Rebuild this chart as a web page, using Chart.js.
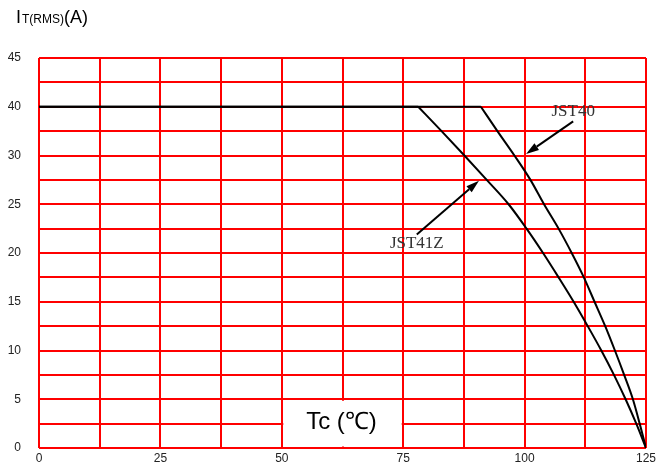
<!DOCTYPE html>
<html><head><meta charset="utf-8">
<style>html,body{margin:0;padding:0;background:#fff;}#wrap{width:664px;height:463px;position:relative;}</style>
<script src="https://cdn.jsdelivr.net/npm/chart.js@4"></script>
</head><body><div id="wrap"><canvas id="c" width="664" height="463"></canvas></div>
<script>
// X ticks (Tc, °C) — labelled every 25, grid every 12.5
const xTickLabels = [0, 25, 50, 75, 100, 125];
// Y tick labels as printed on the original axis (evenly spaced; note "35" is absent)
const yTickLabels = ['0', '5', '10', '15', '20', '25', '30', '40', '45'];
// Series values in axis units (each label step = 5 units; printed "40" sits at 35)
const flatLevel = 35;
const jst40FlatEnd = 91.0;
const jst41zFlatEnd = 78.1;
const jst40X = [91.0, 94.4, 97.9, 101.2, 104.0, 107.0, 109.7, 112.2, 114.4, 116.6, 118.6, 120.5, 122.3, 123.7, 125];
const jst40Y = [35, 32.5, 30, 27.5, 25, 22.5, 20, 17.5, 15, 12.5, 10, 7.5, 5, 2.5, 0];
const jst41zX = [78.1, 82.9, 87.6, 92.2, 96.7, 100.4, 103.8, 107.0, 110.1, 113.0, 115.8, 118.4, 120.8, 123.0, 125];
const jst41zY = [35, 32.5, 30, 27.5, 25, 22.5, 20, 17.5, 15, 12.5, 10, 7.5, 5, 2.5, 0];
// Annotation labels and arrows (tail -> tip), in data units
const seriesNames = ['JST40', 'JST41Z'];
const labelPos = [[110, 34.5], [77.8, 21.0]];
const arrowTail = [[110.0, 33.5], [77.8, 21.9]];
const arrowTip = [[100.3, 30.15], [90.6, 27.4]];
const axisTitleX = 'Tc (℃)';

const toPts = (xs, ys) => xs.map((x, i) => ({x: x, y: ys[i]}));

const overlay = {
  id: 'overlay',
  beforeDatasetsDraw(chart) {
    const ctx = chart.ctx, xs = chart.scales.x, ys = chart.scales.y;
    ctx.save();
    const l = xs.getPixelForValue(50) + 1.5, r = xs.getPixelForValue(75) - 1.5;
    const t = ys.getPixelForValue(5) + 1.5, b = ys.getPixelForValue(0) - 1.5;
    ctx.fillStyle = '#fff';
    ctx.fillRect(l, t, r - l, b - t);
    ctx.fillStyle = '#000';
    ctx.font = '24px "Liberation Sans", Arial, sans-serif';
    ctx.textAlign = 'center';
    ctx.textBaseline = 'middle';
    ctx.fillText(axisTitleX, xs.getPixelForValue(62.3), ys.getPixelForValue(2.6));
    ctx.restore();
  },
  afterDatasetsDraw(chart) {
    const ctx = chart.ctx, xs = chart.scales.x, ys = chart.scales.y;
    ctx.save();
    for (let i = 0; i < seriesNames.length; i++) {
      const x1 = xs.getPixelForValue(arrowTail[i][0]), y1 = ys.getPixelForValue(arrowTail[i][1]);
      const x2 = xs.getPixelForValue(arrowTip[i][0]), y2 = ys.getPixelForValue(arrowTip[i][1]);
      const a = Math.atan2(y2 - y1, x2 - x1);
      const hl = 13, hw = 4;
      const bx = x2 - hl * Math.cos(a), by = y2 - hl * Math.sin(a);
      ctx.strokeStyle = '#000'; ctx.lineWidth = 2;
      ctx.beginPath(); ctx.moveTo(x1, y1); ctx.lineTo(bx, by); ctx.stroke();
      ctx.fillStyle = '#000';
      ctx.beginPath();
      ctx.moveTo(x2, y2);
      ctx.lineTo(bx + hw * Math.sin(a), by - hw * Math.cos(a));
      ctx.lineTo(bx - hw * Math.sin(a), by + hw * Math.cos(a));
      ctx.closePath(); ctx.fill();
      ctx.fillStyle = '#333';
      ctx.font = '17px "Liberation Serif", "Times New Roman", serif';
      ctx.textAlign = 'center'; ctx.textBaseline = 'middle';
      ctx.fillText(seriesNames[i], xs.getPixelForValue(labelPos[i][0]), ys.getPixelForValue(labelPos[i][1]));
    }
    // Y axis title: I_T(RMS)(A)
    ctx.fillStyle = '#000';
    ctx.textAlign = 'left'; ctx.textBaseline = 'alphabetic';
    let x = 16;
    ctx.font = '18px "Liberation Sans", Arial, sans-serif';
    ctx.fillText('I', x, 23); x += ctx.measureText('I').width + 1;
    ctx.font = '12px "Liberation Sans", Arial, sans-serif';
    ctx.fillText('T(RMS)', x, 23); x += ctx.measureText('T(RMS)').width;
    ctx.font = '18px "Liberation Sans", Arial, sans-serif';
    ctx.fillText('(A)', x, 23);
    ctx.restore();
  }
};

const lineStyle = {showLine: true, borderColor: '#000', borderWidth: 2, pointRadius: 0, fill: false};

new Chart(document.getElementById('c'), {
  type: 'scatter',
  data: {
    datasets: [
      Object.assign({label: seriesNames[0] + ' flat', data: [{x: 0, y: flatLevel}, {x: jst40FlatEnd, y: flatLevel}], tension: 0}, lineStyle),
      Object.assign({label: seriesNames[0], data: toPts(jst40X, jst40Y), cubicInterpolationMode: 'monotone'}, lineStyle),
      Object.assign({label: seriesNames[1] + ' flat', data: [{x: 0, y: flatLevel}, {x: jst41zFlatEnd, y: flatLevel}], tension: 0}, lineStyle),
      Object.assign({label: seriesNames[1], data: toPts(jst41zX, jst41zY), cubicInterpolationMode: 'monotone'}, lineStyle)
    ]
  },
  options: {
    responsive: false,
    animation: false,
    layout: {padding: {top: 58, right: 18, left: 0, bottom: 0}},
    plugins: {legend: {display: false}, tooltip: {enabled: false}},
    scales: {
      x: {
        type: 'linear', min: 0, max: 125,
        afterFit: s => { s.height = 15; },
        border: {display: false},
        grid: {color: '#ff0000', lineWidth: 2, drawTicks: false},
        ticks: {stepSize: 12.5, autoSkip: false, maxRotation: 0, padding: 3, color: '#222',
          font: {family: '"Liberation Sans", Arial, sans-serif', size: 12},
          callback: v => xTickLabels.includes(v) ? String(v) : ''}
      },
      y: {
        type: 'linear', min: 0, max: 40,
        afterFit: s => { s.width = 39; s.paddingTop = 7; s.paddingBottom = 7; },
        border: {display: false},
        grid: {color: '#ff0000', lineWidth: 2, drawTicks: false},
        ticks: {stepSize: 2.5, autoSkip: false, padding: 18, color: '#222',
          font: {family: '"Liberation Sans", Arial, sans-serif', size: 12},
          callback: v => (v % 5 === 0) ? yTickLabels[v / 5] : ''}
      }
    }
  },
  plugins: [overlay]
});
</script></body></html>
